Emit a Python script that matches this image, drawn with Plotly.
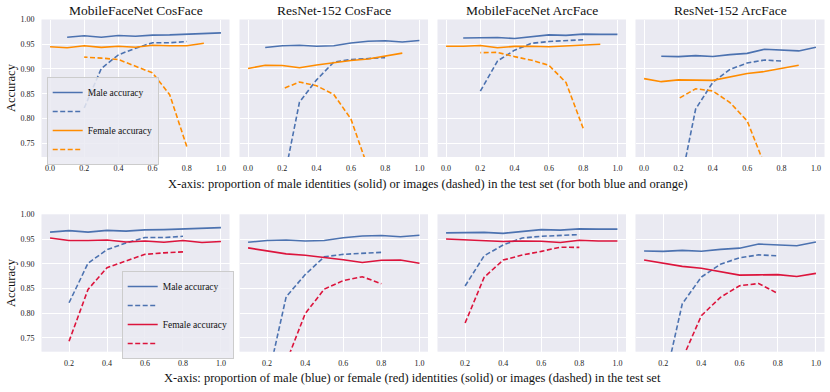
import plotly.graph_objects as go

# x positions (proportions)
prop_id = [0.1, 0.2, 0.3, 0.4, 0.5, 0.6, 0.7, 0.8, 0.9, 1.0]
prop_img = [0.2, 0.3, 0.4, 0.5, 0.6, 0.7, 0.8]

models = ["MobileFaceNet CosFace", "ResNet-152 CosFace", "MobileFaceNet ArcFace", "ResNet-152 ArcFace"]

# male accuracy vs proportion of male identities / images
male_id = [
    [0.964, 0.967, 0.964, 0.9675, 0.966, 0.9685, 0.969, 0.970, 0.9715, 0.973],
    [0.9435, 0.947, 0.948, 0.946, 0.947, 0.9525, 0.956, 0.957, 0.9545, 0.9575],
    [0.9625, 0.9635, 0.9635, 0.9615, 0.965, 0.969, 0.968, 0.9705, 0.970, 0.970],
    [0.9257, 0.925, 0.927, 0.9253, 0.929, 0.9315, 0.9398, 0.938, 0.9365, 0.9438],
]
male_img = [
    [0.821, 0.901, 0.9285, 0.942, 0.953, 0.953, 0.9555],
    [0.66, 0.833, 0.878, 0.914, 0.919, 0.921, 0.923],
    [0.855, 0.916, 0.938, 0.952, 0.9555, 0.9575, 0.959],
    [0.647, 0.819, 0.873, 0.899, 0.912, 0.918, 0.916],
]
# female accuracy vs proportion of female identities / images
female_id = [
    [0.952, 0.947, 0.947, 0.948, 0.944, 0.946, 0.9436, 0.947, 0.943, 0.945],
    [0.932, 0.926, 0.920, 0.917, 0.913, 0.908, 0.9025, 0.907, 0.9075, 0.901],
    [0.950, 0.948, 0.947, 0.945, 0.946, 0.9456, 0.943, 0.9475, 0.946, 0.946],
    [0.9075, 0.901, 0.8947, 0.8908, 0.884, 0.877, 0.8774, 0.878, 0.8743, 0.8805],
]
female_img = [
    [0.743, 0.848, 0.892, 0.906, 0.919, 0.922, 0.924],
    [0.62, 0.70, 0.799, 0.8485, 0.866, 0.8737, 0.8595],
    [0.780, 0.8725, 0.9074, 0.9175, 0.925, 0.9335, 0.933],
    [0.63, 0.707, 0.795, 0.832, 0.8555, 0.860, 0.840],
]

BLUE = "#4C72B0"
ORANGE = "#FF8C00"
RED = "#DC143C"
FONT = "Liberation Serif"
W, H = 830, 392

def px(v):
    return v / W

def py(v):
    return 1 - v / H

col_px = [(41.5, 229.5), (239.5, 428.0), (437.5, 626.0), (635.5, 824.5)]
row_px = [(19.5, 157.0), (214.3, 351.7)]

fig = go.Figure()
layout = {}

def add(k, x, y, color, dash, name, show, legend):
    fig.add_trace(go.Scatter(
        x=x, y=y, mode="lines", name=name, showlegend=show, legend=legend,
        line=dict(color=color, width=1.6, dash="5px,2.5px" if dash else "solid"),
        xaxis="x%d" % (k + 1), yaxis="y%d" % (k + 1), hoverinfo="skip",
    ))

for r in range(2):
    for c in range(4):
        k = r * 4 + c
        first = (c == 0)
        lg = "legend" if r == 0 else "legend2"
        fcol = ORANGE if r == 0 else RED
        # top row: everything against proportion of male; bottom row: female vs female proportion
        fx_id = [round(1 - p, 1) for p in prop_id] if r == 0 else prop_id
        fx_img = [round(1 - p, 1) for p in prop_img] if r == 0 else prop_img
        add(k, prop_id, male_id[c], BLUE, False, "Male accuracy", first, lg)
        add(k, prop_img, male_img[c], BLUE, True, " ", first, lg)
        add(k, fx_id, female_id[c], fcol, False, "Female accuracy", first, lg)
        add(k, fx_img, female_img[c], fcol, True, " ", first, lg)

        x0, x1 = col_px[c]
        y0, y1 = row_px[r]
        sfx = "" if k == 0 else str(k + 1)
        layout["xaxis" + sfx] = dict(
            domain=[px(x0), px(x1)], anchor="y" + sfx, automargin=False,
            range=[-0.05, 1.05] if r == 0 else [0.055, 1.045],
            tickvals=[0.0, 0.2, 0.4, 0.6, 0.8, 1.0] if r == 0 else [0.2, 0.4, 0.6, 0.8, 1.0],
            tickformat=".1f", showgrid=True, gridcolor="white", gridwidth=1.2,
            zeroline=False, showline=False, ticks="", ticklabelstandoff=5,
            tickfont=dict(family=FONT, size=8, color="#222"),
        )
        layout["yaxis" + sfx] = dict(
            domain=[py(y1), py(y0)], anchor="x" + sfx, automargin=False,
            range=[0.722, 1.0], tickvals=[0.75, 0.80, 0.85, 0.90, 0.95, 1.00],
            tickformat=".2f", showticklabels=first, showgrid=True, gridcolor="white",
            gridwidth=1.2, zeroline=False, showline=False, ticks="", ticklabelstandoff=6,
            tickfont=dict(family=FONT, size=8, color="#222"),
        )

annotations = []
for c, m in enumerate(models):
    x0, x1 = col_px[c]
    annotations.append(dict(text=m, x=px((x0 + x1) / 2), y=py(10.5),
                            font=dict(family=FONT, size=13.5, color="#111")))
for yc in (88, 283):
    annotations.append(dict(text="Accuracy", x=px(11), y=py(yc), textangle=-90,
                            font=dict(family=FONT, size=12.5, color="#111")))
annotations.append(dict(
    text="X-axis: proportion of male identities (solid) or images (dashed) in the test set (for both blue and orange)",
    x=px(428), y=py(184), font=dict(family=FONT, size=12.5, color="#111")))
annotations.append(dict(
    text="X-axis: proportion of male (blue) or female (red) identities (solid) or images (dashed) in the test set",
    x=px(412), y=py(378), font=dict(family=FONT, size=12.5, color="#111")))
for a in annotations:
    a.update(xref="paper", yref="paper", xanchor="center", yanchor="middle", showarrow=False)

leg_style = dict(bgcolor="rgba(234,234,242,0.85)", bordercolor="#cccccc", borderwidth=1,
                 font=dict(family=FONT, size=9.5, color="#111"), xanchor="left", yanchor="top",
                 tracegroupgap=0, itemwidth=30, xref="paper", yref="paper")

fig.update_layout(
    **layout,
    annotations=annotations,
    legend=dict(x=px(46.7), y=py(77), **leg_style),
    legend2=dict(x=px(121.7), y=py(271), **leg_style),
    plot_bgcolor="#EAEAF2",
    paper_bgcolor="white",
    width=W, height=H,
    margin=dict(l=0, r=0, t=0, b=0),
)

# drop the browser's default page margin so the figure sits at the top-left corner
fig.write_html("out.html", config={"displayModeBar": False},
               post_script="document.body.style.margin = '0';")
